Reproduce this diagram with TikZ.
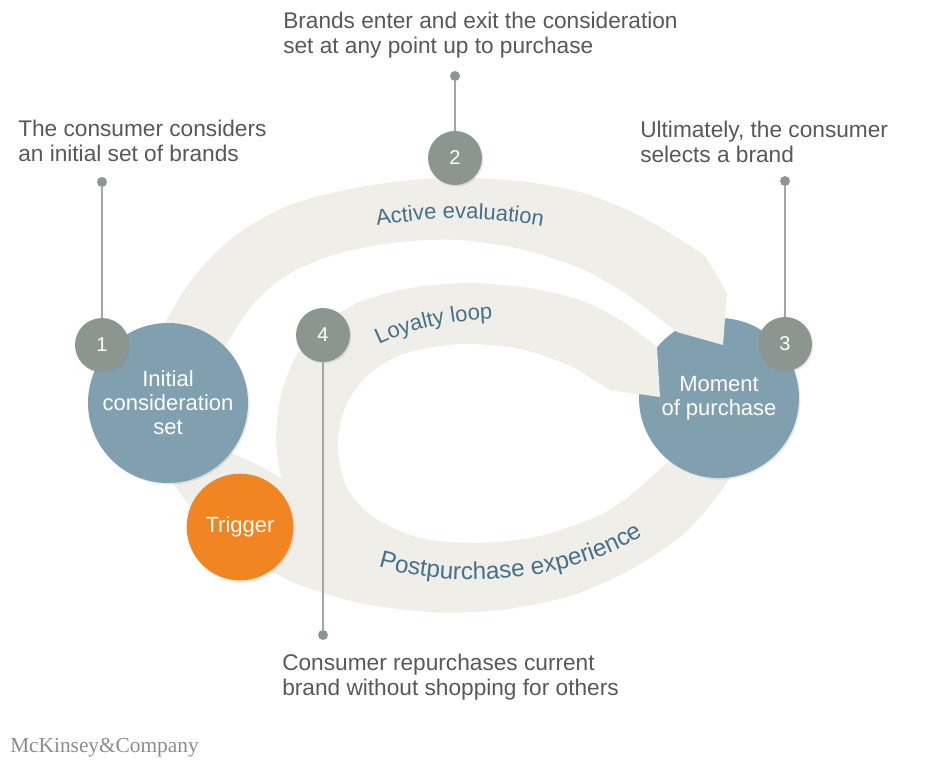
\documentclass[tikz,border=0pt]{standalone}
\usepackage{fontspec}
\setmainfont{Liberation Sans}
\newfontfamily\logofont{Liberation Serif}
\usetikzlibrary{decorations.text,shadows}

\definecolor{bandgrey}{RGB}{239,238,233}
\definecolor{stageblue}{RGB}{128,160,176}
\definecolor{stepgrey}{RGB}{140,150,145}
\definecolor{triggerorange}{RGB}{240,133,34}
\definecolor{labelblue}{RGB}{70,112,138}
\definecolor{notegrey}{RGB}{88,88,88}
\definecolor{leadgrey}{RGB}{165,165,165}
\definecolor{logogrey}{RGB}{140,140,140}

\newcommand{\bandfont}{\fontsize{16.5}{16.5}\selectfont\color{labelblue}}
\newcommand{\bandfontbig}{\fontsize{18.2}{18.2}\selectfont\color{labelblue}}

\tikzset{
  band/.style={fill=bandgrey},
  softshadow/.style={drop shadow={opacity=0.18,shadow xshift=1pt,shadow yshift=-1.2pt}},
  stage/.style={circle, fill=stageblue, text=white, minimum size=120pt, inner sep=0pt, align=center, font=\fontsize{16.5}{18}\selectfont, softshadow},
  trigger/.style={circle, fill=triggerorange, text=white, minimum size=80pt, inner sep=0pt, font=\fontsize{16.5}{18}\selectfont, softshadow},
  stepnum/.style={circle, fill=stepgrey, text=white, minimum size=40.5pt, inner sep=0pt, font=\fontsize{15}{15}\selectfont, softshadow},
  leaddot/.style={circle, fill=stepgrey, minimum size=7.5pt, inner sep=0pt},
  leader/.style={draw=leadgrey, line width=0.8pt},
  note/.style={anchor=north west, inner sep=0pt, align=left, text=notegrey, font=\fontsize{17}{18.75}\selectfont},
  bandlabel/.style={decorate, decoration={text along path, text align=center, text={|\bandfont|#1}}}
}

\begin{document}
\begin{tikzpicture}[x=0.75pt,y=0.75pt,yscale=-1,xscale=1]
\useasboundingbox (0,0) rectangle (926,761);

%Shape: Loop band [postpurchase experience + loyalty loop]
\path[save path=\pploop] plot[smooth] coordinates {(657,347) (620,320) (580,300) (530,288) (470,283) (410,288) (360,302) (322,325) (296,356) (281,395) (276,440) (281,478)}
  -- plot[smooth] coordinates {(281,478) (262,467) (245,459) (225,451) (190,440)}
  -- (160,465)
  -- plot[smooth] coordinates {(160,465) (178,490) (200,520) (230,548) (265,568) (300,585) (360,603) (430,612) (500,610) (570,596) (630,570) (680,537) (712,503) (735,470)}
  -- (700,440)
  -- plot[smooth] coordinates {(690,445) (667,463) (633,493) (600,515) (540,536) (480,543) (420,538) (375,518) (348,490) (338,450) (344,410) (366,377) (403,354) (460,344) (520,349) (570,366) (610,390)}
  -- (660,397) -- cycle;
\fill[band, use path=\pploop];

%Shape: Moment of purchase
\node[stage] (mop) at (719,398) {Moment\\of purchase};

%Shape: Loyalty loop arrow end, over the circle
\begin{scope}
  \clip (590,240) rectangle (800,430);
  \fill[band, use path=\pploop];
\end{scope}

%Shape: Active evaluation band
\fill[band] plot[smooth] coordinates {(150,365) (162,330) (178,300) (202,267) (240,232) (290,205) (350,189) (410,180) (460,178) (520,181) (580,192) (630,211) (670,233) (705,256)}
  -- (727,293) -- (723,345) -- (677,332)
  -- plot[smooth] coordinates {(650,311) (620,290) (580,268) (520,249) (460,240) (400,242) (340,253) (292,272) (257,300) (232,335) (215,365)}
  -- cycle;

%Shape: Initial consideration set, trigger
\node[stage] (ics) at (168,403) {Initial\\consideration\\set};
\node[trigger] (trig) at (240,527) {Trigger};

% Band labels
\path[bandlabel={Active evaluation}] (335,236) .. controls (410,213) and (505,213) .. (585,236);
\path[bandlabel={Loyalty loop}] (355,358) .. controls (400,330) and (450,318) .. (520,318);
\path[decorate, decoration={text along path, text align=center, text={|\bandfontbig|Postpurchase experience}}] (350,556) .. controls (430,594) and (580,590) .. (668,518);

%Leader dots
\node[leaddot] (d1) at (102,182) {};
\node[leaddot] (d2) at (455,76) {};
\node[leaddot] (d3) at (785,181) {};
\node[leaddot] (d4) at (323,635) {};

%Step numbers
\node[stepnum] (n1) at (102,345) {1};
\node[stepnum] (n2) at (455,158) {2};
\node[stepnum] (n3) at (785,344) {3};
\node[stepnum] (n4) at (323,335) {4};

%Straight Lines
\draw[leader] (n1) -- (d1);
\draw[leader] (n2) -- (d2);
\draw[leader] (n3) -- (d3);
\draw[leader] (n4) -- (d4);

% Text Node
\node[note] (t1) at (18,120) {The consumer considers\\an initial set of brands};
% Text Node
\node[note] (t2) at (283,12) {Brands enter and exit the consideration\\set at any point up to purchase};
% Text Node
\node[note] (t3) at (640,121) {Ultimately, the consumer\\selects a brand};
% Text Node
\node[note] (t4) at (282,654) {Consumer repurchases current\\brand without shopping for others};
% Text Node
\node[anchor=base west, inner sep=0pt, text=logogrey, font=\logofont\fontsize{16}{16}\selectfont] (logo) at (10,752) {McKinsey\&Company};
\end{tikzpicture}
\end{document}
